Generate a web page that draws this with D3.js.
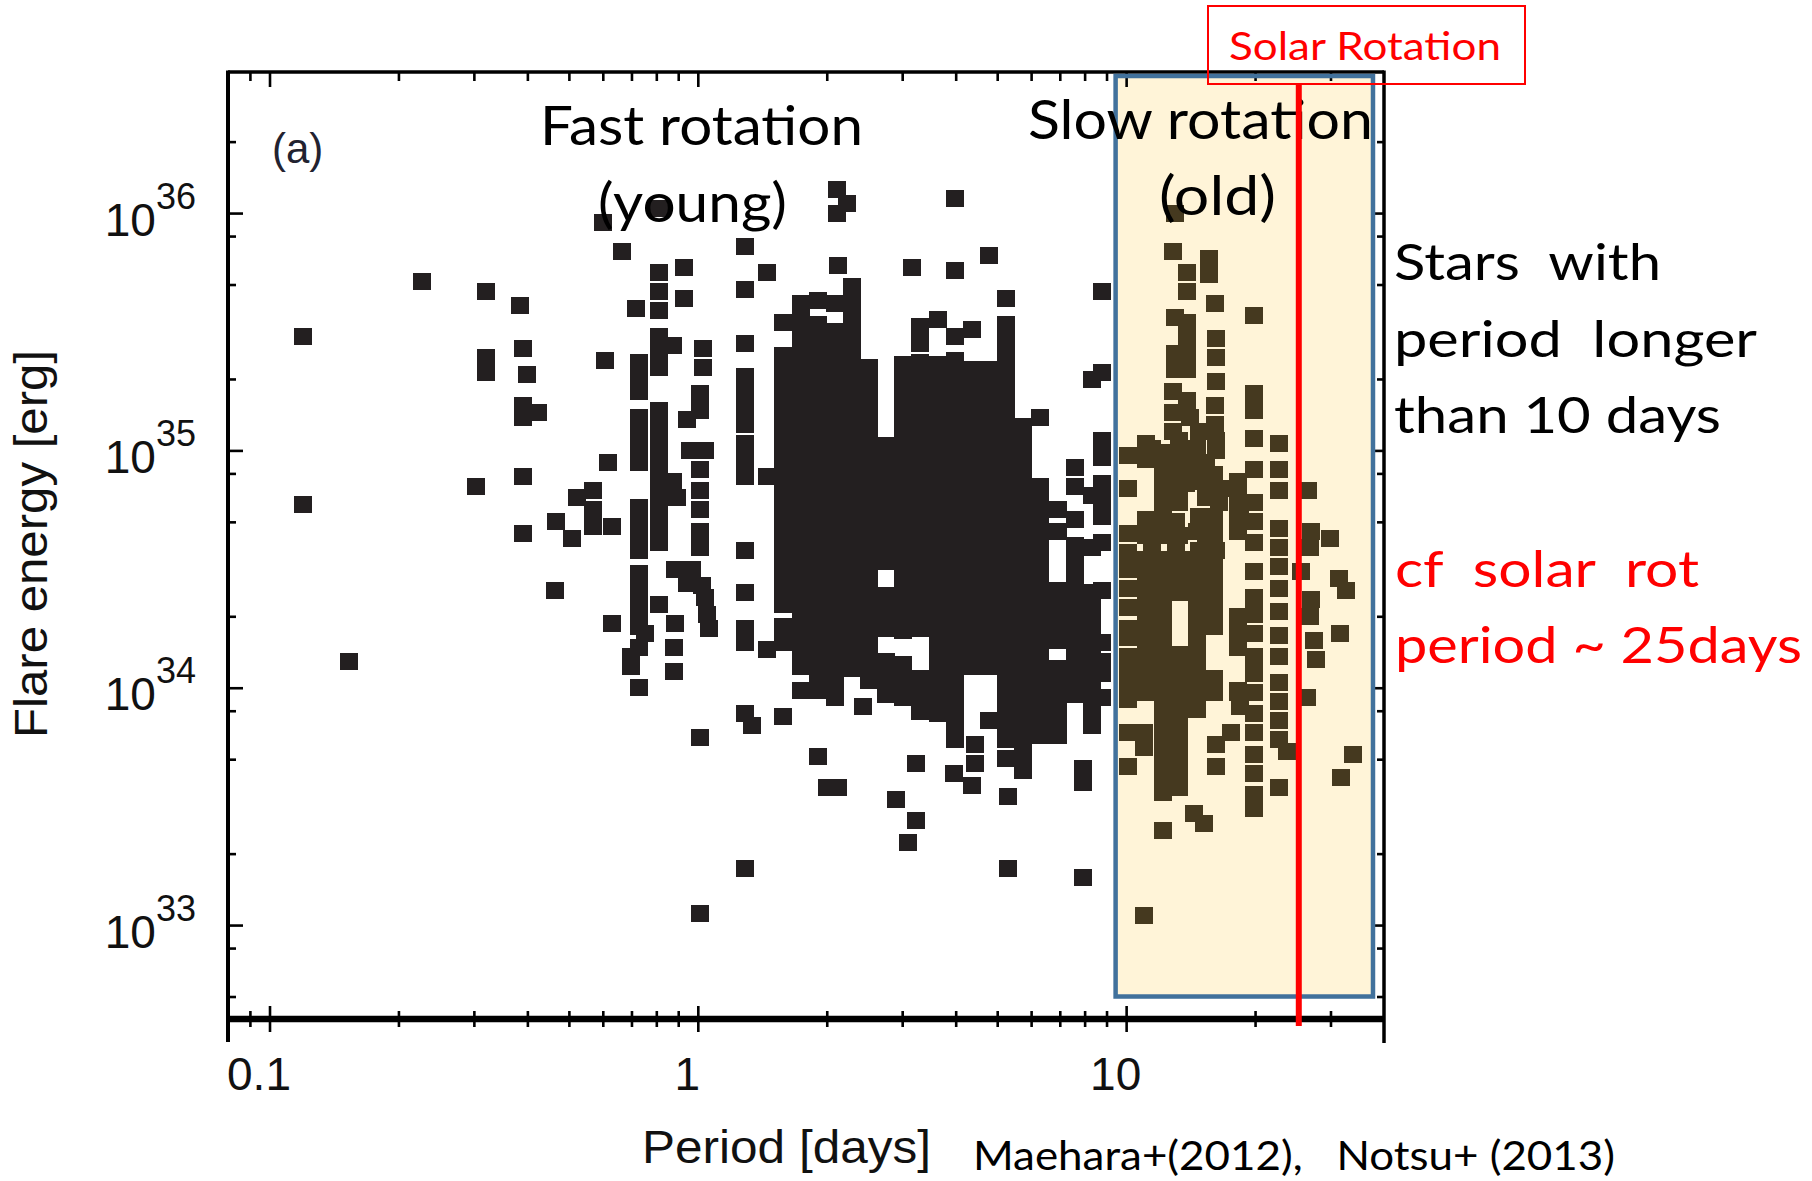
<!DOCTYPE html>
<html>
<head>
<meta charset="utf-8">
<script src="https://cdn.jsdelivr.net/npm/d3@7"></script>
<style>
  body { margin: 0; background: #fff; }
  svg text { font-family: "Liberation Sans", Arial, sans-serif; }
  svg text.note { font-family: Lato, "Open Sans", sans-serif; white-space: pre; }
</style>
</head>
<body>
<svg id="chart" width="1812" height="1181"></svg>
<script>
// ---- data: period [days], log10 flare energy [erg] ----
// stacked columns of markers (same period, many flares)
const stackPeriod = [0.73, 0.81, 1.01, 1.29, 1.58, 1.74, 1.91, 2.09, 2.29, 2.51, 2.75, 3.02, 3.31, 3.63,
  3.98, 4.37, 4.79, 5.25, 5.75, 6.31, 6.92, 7.59, 8.32, 8.8, 10.1, 11.1, 12.2, 13.3, 14.6, 16.0, 18.2, 19.9, 22.8];
const stackLogE = [
  [35.37, 35.31, 35.25, 35.14, 35.08, 35.01, 34.95, 34.76, 34.69, 34.63, 34.58, 34.48, 34.41, 34.35, 34.30, 34.26, 34.17, 34.00],
  [36.02, 35.75, 35.67, 35.59, 35.48, 35.41, 35.35, 35.17, 35.10, 35.03, 34.96, 34.89, 34.82, 34.75, 34.68, 34.61, 34.35],
  [35.24, 35.17, 34.92, 34.83, 34.75, 34.66, 34.59, 33.79, 33.05],
  [35.86, 35.68, 35.45, 35.31, 35.24, 35.17, 35.11, 35.03, 34.96, 34.89, 34.58, 34.40, 34.25, 34.19, 33.89, 33.24],
  [35.54, 35.40, 35.33, 35.26, 35.19, 35.12, 35.05, 34.98, 34.91, 34.84, 34.77, 34.70, 34.63, 34.56, 34.49, 34.42, 34.35, 34.26, 34.19, 33.88],
  [35.62, 35.55, 35.48, 35.41, 35.34, 35.27, 35.20, 35.13, 35.06, 34.99, 34.92, 34.85, 34.78, 34.71, 34.64, 34.57, 34.50, 34.43, 34.36, 34.29, 34.22, 34.15, 34.09, 33.99],
  [35.63, 35.53, 35.46, 35.39, 35.32, 35.25, 35.18, 35.11, 35.04, 34.97, 34.90, 34.83, 34.76, 34.69, 34.62, 34.55, 34.48, 34.41, 34.34, 34.27, 34.20, 34.13, 34.06, 33.99, 33.71],
  [35.62, 35.50, 35.43, 35.36, 35.29, 35.22, 35.15, 35.08, 35.01, 34.94, 34.87, 34.80, 34.73, 34.66, 34.59, 34.52, 34.45, 34.38, 34.31, 34.24, 34.17, 34.10, 34.03, 33.96],
  [35.69, 35.62, 35.55, 35.48, 35.41, 35.34, 35.27, 35.20, 35.13, 35.06, 34.99, 34.92, 34.85, 34.78, 34.71, 34.64, 34.57, 34.50, 34.43, 34.36, 34.29, 34.22, 34.15, 34.08],
  [35.35, 35.28, 35.21, 35.14, 35.07, 35.00, 34.93, 34.86, 34.79, 34.72, 34.65, 34.58, 34.51, 34.44, 34.37, 34.30, 34.23, 34.16, 34.09, 34.03],
  [35.02, 34.95, 34.88, 34.81, 34.74, 34.67, 34.60, 34.53, 34.39, 34.32, 34.25, 34.11, 34.04, 33.97],
  [35.36, 35.29, 35.22, 35.15, 35.08, 35.01, 34.94, 34.87, 34.80, 34.73, 34.66, 34.59, 34.52, 34.45, 34.38, 34.31, 34.24, 34.10, 34.03, 33.96],
  [35.52, 35.45, 35.37, 35.30, 35.23, 35.16, 35.09, 35.02, 34.95, 34.88, 34.81, 34.74, 34.67, 34.60, 34.53, 34.46, 34.39, 34.32, 34.25, 34.04, 33.97, 33.90],
  [35.55, 35.36, 35.29, 35.22, 35.15, 35.08, 35.01, 34.94, 34.87, 34.80, 34.73, 34.66, 34.59, 34.52, 34.45, 34.38, 34.31, 34.24, 34.17, 34.10, 34.03, 33.96, 33.89],
  [36.06, 35.76, 35.48, 35.38, 35.31, 35.24, 35.17, 35.10, 35.03, 34.96, 34.89, 34.82, 34.75, 34.68, 34.61, 34.54, 34.47, 34.40, 34.33, 34.26, 34.19, 34.12, 34.05, 33.98, 33.91, 33.84, 33.78],
  [35.51, 35.34, 35.27, 35.20, 35.13, 35.06, 34.99, 34.92, 34.85, 34.78, 34.71, 34.64, 34.57, 34.50, 34.43, 34.36, 34.29, 34.22, 34.15, 34.09],
  [35.82, 35.34, 35.27, 35.20, 35.13, 35.06, 34.99, 34.92, 34.85, 34.78, 34.71, 34.64, 34.57, 34.50, 34.43, 34.36, 34.29, 34.22, 34.15, 34.09, 33.86],
  [35.64, 35.53, 35.46, 35.39, 35.32, 35.25, 35.18, 35.11, 35.04, 34.97, 34.90, 34.83, 34.76, 34.69, 34.62, 34.55, 34.48, 34.41, 34.34, 34.27, 34.20, 34.13, 34.06, 33.99, 33.92, 33.85, 33.78, 33.70],
  [35.10, 35.03, 34.96, 34.89, 34.82, 34.75, 34.68, 34.61, 34.54, 34.47, 34.40, 34.33, 34.26, 34.19, 34.12, 34.05, 33.98, 33.91, 33.84, 33.77, 33.70, 33.65],
  [35.14, 34.85, 34.78, 34.71, 34.64, 34.57, 34.50, 34.43, 34.36, 34.29, 34.22, 34.15, 34.08, 34.01, 33.94, 33.87, 33.80],
  [34.75, 34.66, 34.41, 34.34, 34.27, 34.20, 34.08, 34.01, 33.94, 33.87, 33.80],
  [34.93, 34.85, 34.71, 34.60, 34.53, 34.46, 34.39, 34.32, 34.25, 34.18, 34.11, 34.04, 33.97],
  [35.30, 34.81, 34.59, 34.40, 34.33, 34.26, 34.19, 34.12, 34.05, 33.98, 33.91, 33.84],
  [35.67, 35.33, 35.04, 34.97, 34.86, 34.79, 34.72, 34.61, 34.41, 34.19, 34.11, 34.06, 33.96],
  [34.98, 34.84, 34.65, 34.57, 34.50, 34.42, 34.34, 34.25, 34.21, 34.13, 34.06, 34.01, 33.95, 33.81, 33.67],
  [35.03, 34.96, 34.71, 34.64, 34.54, 34.47, 34.40, 34.33, 34.26, 34.19, 34.12, 34.05, 33.98],
  [34.92, 34.85, 34.78, 34.71, 34.64, 34.54, 34.47, 34.40, 34.33, 34.26, 34.19, 34.12, 34.05, 33.98, 33.91, 33.84, 33.77, 33.70, 33.63, 33.56],
  [34.99, 34.92, 34.85, 34.78, 34.64, 34.54, 34.47, 34.40, 34.14, 34.07, 34.00, 33.93, 33.86, 33.79, 33.72, 33.65, 33.58],
  [35.01, 34.94, 34.87, 34.66, 34.54, 34.47, 34.40, 34.33, 34.26, 34.19, 34.12, 34.05, 33.98, 33.91],
  [34.90, 34.83, 34.72, 34.65, 34.54, 34.47, 34.40, 34.33, 34.26, 34.04, 33.98],
  [34.87, 34.80, 34.73, 34.66, 34.30, 34.23, 34.17, 33.99],
  [35.57, 35.24, 35.17, 35.05, 34.92, 34.78, 34.70, 34.61, 34.49, 34.38, 34.31, 34.23, 34.13, 34.06, 33.98, 33.89, 33.81, 33.72, 33.64, 33.55, 33.49],
  [35.03, 34.92, 34.83, 34.67, 34.59, 34.51, 34.42, 34.32, 34.22, 34.13, 34.02, 33.94, 33.86, 33.78, 33.58]
];

// single markers
const loosePeriod = [
  0.12, 0.12, 0.153, 0.227, 0.32, 0.384, 0.39, 0.32, 0.32, 0.40, 0.39, 0.424, 0.39, 0.39, 0.303, 0.39,
  0.60, 0.665, 0.717, 0.607, 0.522, 0.569, 0.569, 0.569, 0.63, 0.467, 0.508, 0.464, 0.63, 0.752, 0.617, 0.70, 0.70,
  0.93, 0.93, 0.875, 0.943, 0.875, 0.893, 0.958, 0.884, 0.879, 0.879, 0.884, 0.943,
  1.03, 1.03, 1.04, 0.97, 1.02, 1.04, 1.05, 1.06, 1.45, 1.45, 1.34, 1.45,
  2.11, 2.23, 2.11, 2.12, 3.16,
  2.0, 2.12, 2.90, 2.43, 3.24, 3.24, 3.10, 3.96, 4.43, 4.43, 4.36, 5.31, 5.31, 7.91, 7.91, 7.91,
  13.0, 12.9, 15.6, 15.6, 16.1, 13.9, 13.9, 13.0, 13.9, 13.9, 16.2, 16.2, 13.0, 13.9, 13.0, 13.9,
  16.2, 12.9, 13.9, 16.1, 16.1, 12.9, 14.1, 12.9, 14.8, 16.2, 11.5, 12.2, 13.3, 14.3, 15.4, 16.2,
  12.9, 13.8, 12.9, 15.4, 15.4, 17.7, 16.5, 11.5, 13.1, 14.8, 15.4, 11.5, 13.1, 14.8, 16.2, 18.4,
  26.6, 27.0, 30.0, 26.8,
  11.0, 11.0, 11.0, 14.4, 15.2, 12.2, 16.2, 16.2, 17.6, 18.2, 18.2, 18.4,
  25.6, 27.0, 26.8, 27.5, 27.8, 26.5, 31.4, 32.6, 31.6, 33.9, 31.8, 23.7
];
const looseLogE = [
  35.48, 34.77, 34.11, 35.71, 35.67, 35.61, 35.43, 35.39, 35.33, 35.32, 35.19, 35.16, 35.14, 34.89, 34.85, 34.65,
  35.96, 35.84, 35.60, 35.38, 34.80, 34.83, 34.75, 34.68, 34.68, 34.70, 34.63, 34.41, 34.27, 34.23, 34.95, 34.13, 34.09,
  35.77, 35.64, 35.44, 35.13, 34.87, 34.80, 35.00, 34.27, 34.17, 34.07, 34.50, 34.44,
  35.43, 35.35, 35.00, 34.50, 34.43, 34.38, 34.31, 34.25, 35.75, 34.89, 33.84, 34.16,
  36.10, 36.04, 36.00, 35.78, 35.77,
  33.58, 33.58, 33.53, 33.92, 33.68, 33.44, 33.35, 33.64, 33.76, 33.68, 33.59, 33.54, 33.24, 33.66, 33.60, 33.20,
  36.00, 35.84, 35.81, 35.74, 35.62, 35.75, 35.67, 35.56, 35.54, 35.48, 35.47, 35.39, 35.41, 35.41, 35.34, 35.34,
  35.29, 35.25, 35.21, 35.19, 35.11, 35.16, 35.14, 35.08, 35.08, 35.04, 35.01, 34.99, 35.04, 34.96, 34.95, 35.00,
  34.92, 34.86, 34.80, 34.89, 34.80, 34.84, 34.78, 34.71, 34.70, 34.72, 34.65, 34.58, 34.58, 34.58, 34.58, 34.72,
  34.83, 34.66, 34.63, 34.59,
  33.81, 33.75, 33.04, 33.47, 33.43, 33.40, 33.67, 33.76, 33.81, 34.25, 33.98, 33.92,
  34.49, 34.37, 34.30, 34.20, 34.12, 33.96, 34.46, 34.41, 34.23, 33.72, 33.62, 33.73
];

// axis ticks
const xMajor = [0.1, 1, 10];
const xTickLabels = ["0.1", "1", "10"];
const xMinor = [0.09, 0.2, 0.3, 0.4, 0.5, 0.6, 0.7, 0.8, 0.9, 2, 3, 4, 5, 6, 7, 8, 9, 20, 30];
const yMajor = [1e33, 1e34, 1e35, 1e36];
const yTickExp = ["33", "34", "35", "36"];
const yMinor = [5e32, 8e32, 2e33, 5e33, 8e33, 2e34, 5e34, 8e34, 2e35, 5e35, 8e35, 2e36];

// highlighted ranges
const slowPeriod = [9.45, 37.7];
const slowEnergy = [5.0e32, 3.78e36];
const solarPeriod = 25.3;

// ---- layout ----
const frame = {left: 228, top: 72, right: 1384, bottom: 1019};
const svg = d3.select("#chart");

const x = d3.scaleLog().domain([0.08, 40]).range([frame.left, frame.right]);
const y = d3.scaleLog().domain([4.02e32, 3.93e36]).range([frame.bottom, frame.top]);

let points = [];
stackPeriod.forEach((p, i) => {
    stackLogE[i].forEach(e => points.push({period: p, energy: Math.pow(10, e)}));
});
loosePeriod.forEach((p, i) => points.push({period: p, energy: Math.pow(10, looseLogE[i])}));

// slow rotation box (fill)
const bx0 = x(slowPeriod[0]), bx1 = x(slowPeriod[1]);
const by0 = y(slowEnergy[1]), by1 = y(slowEnergy[0]);
svg.append("rect")
    .attr("x", bx0).attr("y", by0)
    .attr("width", bx1 - bx0).attr("height", by1 - by0)
    .attr("fill", "#fff4d8");

// axes
function cleanAxis(g) {
    g.attr("font-size", null).attr("font-family", null);
    g.select(".domain").remove();
    g.selectAll(".tick line").attr("stroke", "#000").attr("stroke-width", 2.6);
}

// bottom (ticks cross the line)
const gBottom = svg.append("g")
    .attr("transform", `translate(0,${frame.bottom})`)
    .call(d3.axisBottom(x).tickValues(xMajor).tickSize(13).tickSizeOuter(0).tickPadding(25)
        .tickFormat((d, i) => xTickLabels[i]))
    .call(cleanAxis);
gBottom.selectAll(".tick line").attr("y1", -13);
gBottom.selectAll(".tick text")
    .attr("font-size", 46).attr("dx", -11).attr("fill", "#111");

const gBottomMinor = svg.append("g")
    .attr("transform", `translate(0,${frame.bottom})`)
    .call(d3.axisBottom(x).tickValues(xMinor).tickSize(8).tickSizeOuter(0).tickFormat(""))
    .call(cleanAxis);
gBottomMinor.selectAll(".tick line").attr("y1", -8);

// top (ticks inward)
svg.append("g").attr("transform", `translate(0,${frame.top})`)
    .call(d3.axisBottom(x).tickValues(xMajor).tickSize(15).tickSizeOuter(0).tickFormat(""))
    .call(cleanAxis);
svg.append("g").attr("transform", `translate(0,${frame.top})`)
    .call(d3.axisBottom(x).tickValues(xMinor).tickSize(9).tickSizeOuter(0).tickFormat(""))
    .call(cleanAxis);

// left (ticks inward, labels outside)
const gLeft = svg.append("g")
    .attr("transform", `translate(${frame.left},0)`)
    .call(d3.axisLeft(y).tickValues(yMajor).tickSize(-15).tickSizeOuter(0).tickPadding(32).tickFormat(""))
    .call(cleanAxis);
gLeft.selectAll(".tick text").each(function (d, i) {
    const t = d3.select(this).attr("dy", null).attr("fill", "#111");
    t.append("tspan").attr("dy", 22).attr("font-size", 46).text("10");
    t.append("tspan").attr("dy", -27).attr("font-size", 36).text(yTickExp[i]);
});
svg.append("g").attr("transform", `translate(${frame.left},0)`)
    .call(d3.axisLeft(y).tickValues(yMinor).tickSize(-8).tickSizeOuter(0).tickFormat(""))
    .call(cleanAxis);

// right (ticks inward)
svg.append("g").attr("transform", `translate(${frame.right},0)`)
    .call(d3.axisLeft(y).tickValues(yMajor).tickSize(13).tickSizeOuter(0).tickFormat(""))
    .call(cleanAxis);
svg.append("g").attr("transform", `translate(${frame.right},0)`)
    .call(d3.axisLeft(y).tickValues(yMinor).tickSize(7).tickSizeOuter(0).tickFormat(""))
    .call(cleanAxis);

// frame
svg.append("line").attr("x1", frame.left).attr("x2", frame.left)
    .attr("y1", frame.top - 1.5).attr("y2", frame.bottom + 23)
    .attr("stroke", "#000").attr("stroke-width", 4);
svg.append("line").attr("x1", frame.right).attr("x2", frame.right)
    .attr("y1", frame.top - 1.5).attr("y2", frame.bottom + 24)
    .attr("stroke", "#000").attr("stroke-width", 3.5);
svg.append("line").attr("x1", frame.left).attr("x2", frame.right)
    .attr("y1", frame.top).attr("y2", frame.top)
    .attr("stroke", "#000").attr("stroke-width", 3.5);
svg.append("line").attr("x1", frame.left).attr("x2", frame.right)
    .attr("y1", frame.bottom).attr("y2", frame.bottom)
    .attr("stroke", "#000").attr("stroke-width", 6.5);

// markers
const mw = 18, mh = 17;
svg.append("g").attr("shape-rendering", "crispEdges")
    .selectAll("rect")
    .data(points).join("rect")
    .attr("x", d => x(d.period) - mw / 2)
    .attr("y", d => y(d.energy) - mh / 2)
    .attr("width", mw).attr("height", mh)
    .attr("fill", "#231f20");

// markers seen through the yellow box turn brown
svg.append("clipPath").attr("id", "slowClip")
    .append("rect")
    .attr("x", bx0).attr("y", by0)
    .attr("width", bx1 - bx0).attr("height", by1 - by0);
svg.append("g").attr("clip-path", "url(#slowClip)").attr("shape-rendering", "crispEdges")
    .selectAll("rect")
    .data(points).join("rect")
    .attr("x", d => x(d.period) - mw / 2)
    .attr("y", d => y(d.energy) - mh / 2)
    .attr("width", mw).attr("height", mh)
    .attr("fill", "#45391f");

// box outline
svg.append("rect")
    .attr("x", bx0).attr("y", by0)
    .attr("width", bx1 - bx0).attr("height", by1 - by0)
    .attr("fill", "none").attr("stroke", "#41719c").attr("stroke-width", 4.5);

// axis titles
svg.append("text")
    .attr("x", 642).attr("y", 1163)
    .attr("font-size", 46).attr("fill", "#111")
    .attr("textLength", 289).attr("lengthAdjust", "spacingAndGlyphs")
    .text("Period [days]");
svg.append("text")
    .attr("transform", "translate(47,544) rotate(-90)")
    .attr("text-anchor", "middle")
    .attr("font-size", 46).attr("fill", "#111")
    .attr("textLength", 388).attr("lengthAdjust", "spacingAndGlyphs")
    .text("Flare energy [erg]");
svg.append("text")
    .attr("x", 272).attr("y", 163)
    .attr("font-size", 42).attr("fill", "#222230")
    .text("(a)");

// annotations
function note(txt, px, py, size, len, color) {
    svg.append("text").attr("class", "note")
        .attr("x", px).attr("y", py)
        .attr("font-size", size)
        .attr("fill", color || "#000")
        .attr("textLength", len).attr("lengthAdjust", "spacingAndGlyphs")
        .text(txt);
}
note("Fast rotation", 540, 145, 54, 323);
note("(young)", 598, 222, 54, 189);
note("Slow rotation", 1028, 139, 54, 345);
note("(old)", 1159, 215, 54, 117);

// solar rotation marker
svg.append("line")
    .attr("x1", x(solarPeriod)).attr("x2", x(solarPeriod))
    .attr("y1", 84).attr("y2", frame.bottom + 7)
    .attr("stroke", "#ff0000").attr("stroke-width", 6);
svg.append("rect")
    .attr("x", 1208).attr("y", 6).attr("width", 317).attr("height", 78)
    .attr("fill", "none").attr("stroke", "#ff0000").attr("stroke-width", 2);
note("Solar Rotation", 1229, 60, 39, 272, "#ff0000");

note("Stars  with", 1394, 280, 50, 267);
note("period  longer", 1394, 357, 50, 363);
note("than 10 days", 1394, 433, 50, 327);
note("cf  solar  rot", 1395, 587, 50, 304, "#ff0000");
note("period ~ 25days", 1395, 663, 50, 407, "#ff0000");
note("Maehara+(2012),   Notsu+ (2013)", 973, 1170, 40, 642);
</script>
</body>
</html>
